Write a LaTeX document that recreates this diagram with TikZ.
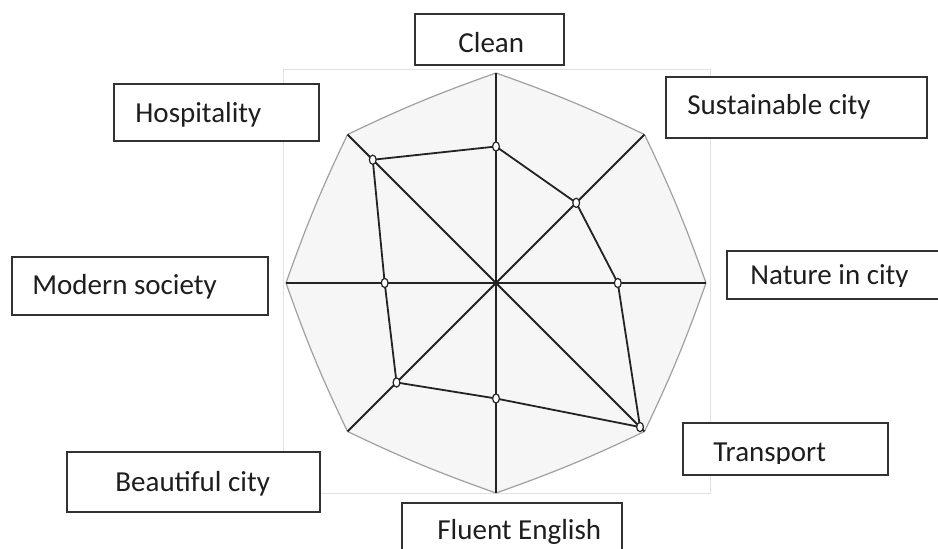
\documentclass[tikz,border=0pt]{standalone}
\usepackage{fontspec}
\setmainfont{Carlito}
\usepackage{tikz}
\usetikzlibrary{shapes.geometric}

\tikzset{
  lblbox/.style={draw=boxColor, fill=white, line width=1pt},
  lbltext/.style={font=\fontsize{14.5}{17}\selectfont, text=textColor, inner sep=0pt, anchor=base west}
}

\begin{document}
\begin{tikzpicture}[x=0.5pt,y=-0.5pt]
\useasboundingbox (0,0) rectangle (938,549);
\definecolor{frameColor}{RGB}{226,226,226}
\definecolor{boxColor}{RGB}{50,50,50}
\definecolor{textColor}{RGB}{30,30,30}
\draw[color=frameColor, line width=0.5pt] (283,70) rectangle (710,494);
\begin{scope}[shift={(496,283)},yscale=-1]
  \foreach \a [count=\i] in {90,45,0,-45,-90,-135,180,135}
    \coordinate (s\i) at (\a:210);
  \coordinate (ctr) at (0,0);
  \definecolor{webFill}{RGB}{246,246,246}
  \definecolor{webEdge}{RGB}{160,160,160}
  \definecolor{spokeColor}{RGB}{35,35,35}
  \fill[webFill] (s1) to[bend right=3] (s2) to[bend right=3] (s3) to[bend right=3] (s4) to[bend right=3] (s5) to[bend right=3] (s6) to[bend right=3] (s7) to[bend right=3] (s8) to[bend right=3] cycle;
  \foreach \i/\j in {1/2,2/3,3/4,4/5,5/6,6/7,7/8,8/1}
    \draw[color=webEdge, line width=0.6pt] (s\i) to[bend right=3] (s\j);
  \foreach \i in {1,...,8}
    \draw[color=spokeColor, line width=0.9pt] (ctr) -- (s\i);
  % scores along each axis
  \foreach \a/\v [count=\i] in {90/0.65,45/0.54,0/0.58,-45/0.97,-90/0.55,-135/0.67,180/0.53,135/0.83}
    \coordinate (d\i) at (\a:{\v*210});
  \draw[color=spokeColor, line width=0.9pt] (d1) -- (d2) -- (d3) -- (d4) -- (d5) -- (d6) -- (d7) -- (d8) -- cycle;
  \foreach \i in {1,...,8}
    \node[draw=spokeColor, fill=white, ellipse, inner sep=0pt, minimum width=3.4pt, minimum height=4.6pt, line width=0.6pt] (m\i) at (d\i) {};
\end{scope}
% labels
\draw[lblbox] (415,14) rectangle (564,65);
\node[lbltext] (clean) at (458,53) {Clean};
\draw[lblbox] (666,77) rectangle (927,138);
\node[lbltext] (sustainable) at (687,115) {Sustainable city};
\draw[lblbox] (114,84) rectangle (319,141);
\node[lbltext] (hospitality) at (135,123) {Hospitality};
\draw[lblbox] (727,251) rectangle (950,299);
\begin{scope}
  \clip (727,251) rectangle (938,287);
  \node[lbltext] (nature) at (750,285) {Nature in city};
\end{scope}
\draw[lblbox] (12,257) rectangle (268,315);
\node[lbltext] (modern) at (32,295) {Modern society};
\draw[lblbox] (683,423) rectangle (888,475);
\begin{scope}
  \clip (683,423) rectangle (888,464);
  \node[lbltext] (transport) at (713,462) {Transport};
\end{scope}
\draw[lblbox] (67,452) rectangle (320,512);
\node[lbltext] (beautiful) at (115,492) {Beautiful city};
\draw[lblbox] (402,503) rectangle (622,570);
\node[lbltext] (fluent) at (437,540) {Fluent English};
\end{tikzpicture}
\end{document}
